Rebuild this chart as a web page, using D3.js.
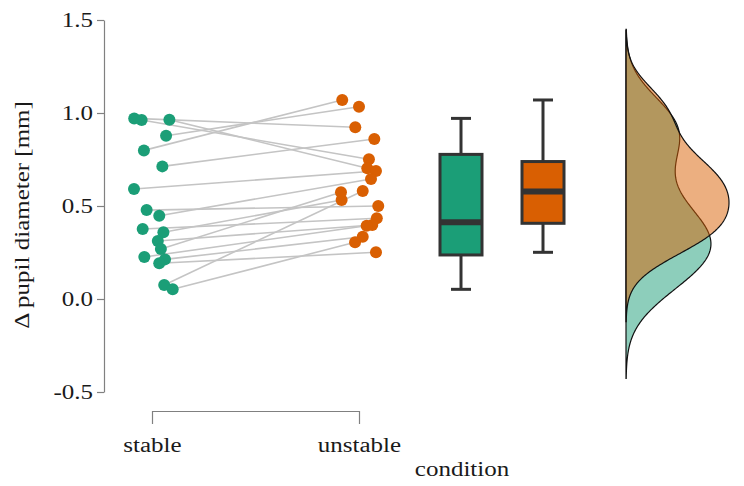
<!DOCTYPE html>
<html>
<head>
<meta charset="utf-8">
<script src="https://cdn.jsdelivr.net/npm/d3@7"></script>
<style>
  html, body { margin: 0; padding: 0; background: #fff; }
  svg { display: block; font-family: "Liberation Serif", "DejaVu Serif", serif; }
</style>
</head>
<body>
<div id="chart"></div>
<script>
// paired observations, same index = same subject
const conditions = ['stable', 'unstable'];
const stableValues = [0.971, 0.962, 0.964, 0.878, 0.799, 0.713, 0.591, 0.478, 0.448,
                      0.376, 0.359, 0.312, 0.269, 0.226, 0.213, 0.192, 0.075, 0.052];
const unstableValues = [0.923, 0.751, 0.703, 1.034, 1.070, 0.860, 0.688, 0.500, 0.645,
                        0.434, 0.532, 0.398, 0.574, 0.394, 0.335, 0.251, 0.581, 0.305];
// horizontal jitter, in category units
const stableJitter = [-0.086, -0.050, 0.084, 0.068, -0.039, 0.050, -0.087, -0.026, 0.035,
                      -0.045, 0.055, 0.028, 0.043, -0.037, 0.063, 0.035, 0.059, 0.100];
const unstableJitter = [-0.018, 0.048, 0.040, 0.000, -0.081, 0.074, 0.082, 0.093, 0.058,
                        0.086, -0.084, 0.064, -0.087, 0.037, 0.018, 0.082, 0.018, -0.019];
const yTicks = [-0.5, 0, 0.5, 1.0, 1.5];
const colors = ['#1b9e77', '#d95f02'];

const width = 744, height = 486;
const textStretch = 'scale(1.25,1)'; // reference glyphs run wide
const svg = d3.select('#chart').append('svg')
    .attr('width', width)
    .attr('height', height);

const y = d3.scaleLinear().domain([-0.5, 1.5]).range([392, 20]);
const x = d3.scaleLinear().domain([1, 2]).range([152, 359]);
const xBox = d3.scalePoint().domain(conditions).range([461, 543]);

const groups = [stableValues, unstableValues];
const jitters = [stableJitter, unstableJitter];

// y axis
const yAxis = svg.append('g')
    .attr('transform', 'translate(104,0)')
    .call(d3.axisLeft(y).tickValues(yTicks)
        .tickFormat(d => d3.format('.1f')(d).replace('\u2212', '-'))
        .tickSize(7).tickSizeOuter(0).tickPadding(3));
yAxis.select('.domain').attr('stroke', '#808080').attr('stroke-width', 1.2);
yAxis.selectAll('.tick line').attr('stroke', '#808080').attr('stroke-width', 1.2);
yAxis.selectAll('.tick text')
    .attr('x', 0)
    .attr('transform', 'translate(-11,0) ' + textStretch)
    .attr('fill', '#1a1a1a')
    .style('font-size', '20px')
    .style('font-family', '"Liberation Serif", serif');

svg.append('text')
    .attr('transform', `translate(29,215) rotate(-90) ${textStretch}`)
    .attr('text-anchor', 'middle')
    .attr('fill', '#1a1a1a')
    .style('font-size', '20px')
    .text('\u0394 pupil diameter [mm]');

// x axis bracket
const xAxis = svg.append('g')
    .attr('transform', 'translate(0,411)')
    .call(d3.axisBottom(x).tickValues([1, 2]).tickFormat((d, i) => conditions[i])
        .tickSize(13).tickSizeOuter(0).tickPadding(14));
xAxis.select('.domain').attr('stroke', '#808080').attr('stroke-width', 1.2);
xAxis.selectAll('.tick line').attr('stroke', '#808080').attr('stroke-width', 1.2);
xAxis.selectAll('.tick text')
    .attr('transform', textStretch)
    .attr('fill', '#1a1a1a')
    .style('font-size', '20px')
    .style('font-family', '"Liberation Serif", serif');

svg.append('text')
    .attr('transform', `translate(462,476) ${textStretch}`)
    .attr('text-anchor', 'middle')
    .attr('fill', '#1a1a1a')
    .style('font-size', '20px')
    .text('condition');

// connecting lines
const pairs = stableValues.map((v, i) => ({
    x1: x(1 + stableJitter[i]), y1: y(v),
    x2: x(2 + unstableJitter[i]), y2: y(unstableValues[i])
}));
svg.append('g').selectAll('line')
    .data(pairs)
    .enter()
    .append('line')
    .attr('x1', d => d.x1).attr('y1', d => d.y1)
    .attr('x2', d => d.x2).attr('y2', d => d.y2)
    .attr('stroke', '#c4c4c4')
    .attr('stroke-width', 1.6);

// points
groups.forEach((vals, g) => {
    svg.append('g').selectAll('circle')
        .data(vals)
        .enter()
        .append('circle')
        .attr('cx', (d, i) => x(g + 1 + jitters[g][i]))
        .attr('cy', d => y(d))
        .attr('r', 6)
        .attr('fill', colors[g]);
});

// box plots
const boxW = 42, capW = 20;
groups.forEach((vals, g) => {
    const s = vals.slice().sort(d3.ascending);
    const q1 = d3.quantile(s, 0.25), med = d3.quantile(s, 0.5), q3 = d3.quantile(s, 0.75);
    const iqr = q3 - q1;
    const lo = d3.min(s.filter(v => v >= q1 - 1.5 * iqr));
    const hi = d3.max(s.filter(v => v <= q3 + 1.5 * iqr));
    const cx = xBox(conditions[g]);
    const bg = svg.append('g')
        .attr('stroke', '#333')
        .attr('stroke-width', 3);
    bg.append('line').attr('x1', cx).attr('x2', cx).attr('y1', y(hi)).attr('y2', y(q3));
    bg.append('line').attr('x1', cx).attr('x2', cx).attr('y1', y(q1)).attr('y2', y(lo));
    bg.append('line').attr('x1', cx - capW / 2).attr('x2', cx + capW / 2).attr('y1', y(hi)).attr('y2', y(hi));
    bg.append('line').attr('x1', cx - capW / 2).attr('x2', cx + capW / 2).attr('y1', y(lo)).attr('y2', y(lo));
    bg.append('rect')
        .attr('x', cx - boxW / 2)
        .attr('y', y(q3))
        .attr('width', boxW)
        .attr('height', y(q1) - y(q3))
        .attr('fill', colors[g]);
    bg.append('line')
        .attr('x1', cx - boxW / 2).attr('x2', cx + boxW / 2)
        .attr('y1', y(med)).attr('y2', y(med))
        .attr('stroke-width', 6);
});

// kernel densities (gaussian, nrd0 bandwidth, cut = 3)
function density(vals) {
    const s = vals.slice().sort(d3.ascending);
    const iqr = d3.quantile(s, 0.75) - d3.quantile(s, 0.25);
    const bw = 0.9 * Math.min(d3.deviation(s), iqr / 1.34) * Math.pow(s.length, -0.2);
    const lo = s[0] - 3 * bw, hi = s[s.length - 1] + 3 * bw;
    const n = 256;
    const out = [];
    for (let k = 0; k <= n; k++) {
        const t = lo + (hi - lo) * k / n;
        const dens = d3.mean(s, v => Math.exp(-0.5 * ((t - v) / bw) ** 2)) / (bw * Math.sqrt(2 * Math.PI));
        out.push([t, dens]);
    }
    return out;
}
const dens = groups.map(density);
const baseX = 626;
const w = d3.scaleLinear()
    .domain([0, d3.max(dens, d => d3.max(d, p => p[1]))])
    .range([0, 103]);
const area = d3.area()
    .y(d => y(d[0]))
    .x0(baseX)
    .x1(d => baseX + w(d[1]));
dens.forEach((d, g) => {
    svg.append('path')
        .datum(d)
        .attr('d', area)
        .attr('fill', colors[g])
        .attr('fill-opacity', 0.5)
        .attr('stroke', '#111')
        .attr('stroke-width', 1.2);
});
</script>
</body>
</html>
